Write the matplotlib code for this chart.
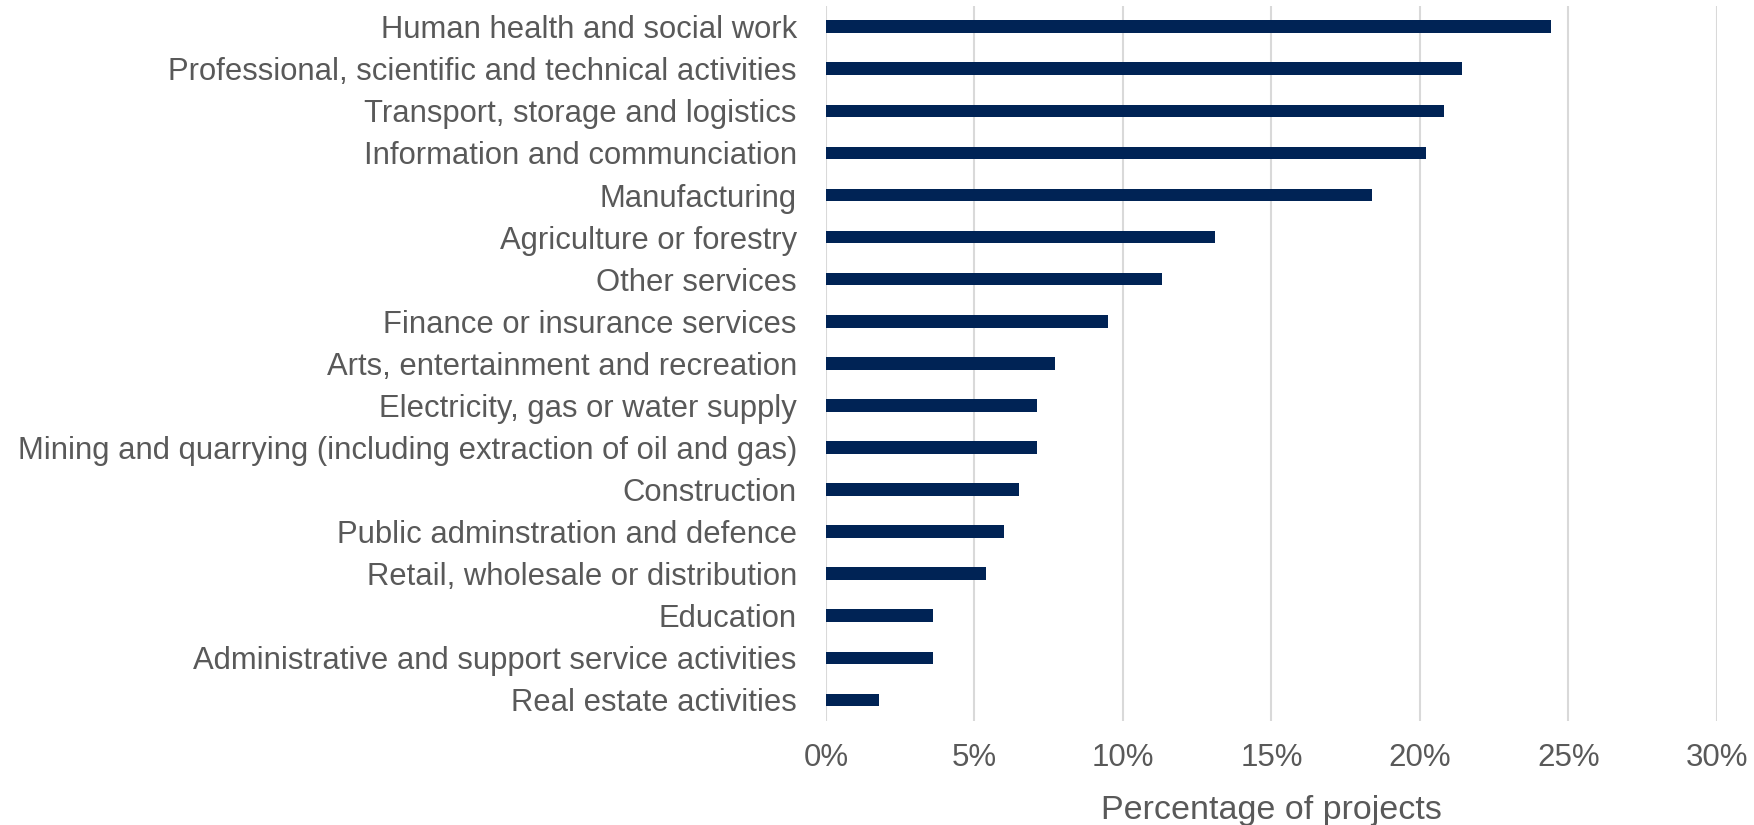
import matplotlib.pyplot as plt
from matplotlib.ticker import FuncFormatter

# Data (percent of projects)
sectors = [
    "Human health and social work",
    "Professional, scientific and technical activities",
    "Transport, storage and logistics",
    "Information and communciation",
    "Manufacturing",
    "Agriculture or forestry",
    "Other services",
    "Finance or insurance services",
    "Arts, entertainment and recreation",
    "Electricity, gas or water supply",
    "Mining and quarrying (including extraction of oil and gas)",
    "Construction",
    "Public adminstration and defence",
    "Retail, wholesale or distribution",
    "Education",
    "Administrative and support service activities",
    "Real estate activities",
]
percentages = [24.4, 21.4, 20.8, 20.2, 18.4, 13.1, 11.3, 9.5, 7.7,
               7.1, 7.1, 6.5, 6.0, 5.4, 3.6, 3.6, 1.8]
x_ticks = [0, 5, 10, 15, 20, 25, 30]

bar_color = "#002355"
text_color = "#595959"
grid_color = "#d9d9d9"

plt.rcParams['font.family'] = ['Liberation Sans', 'DejaVu Sans']

fig = plt.figure(figsize=(17.54, 8.25), dpi=100)
ax = fig.add_axes([0.4709, 0.1261, 0.5080, 0.8670])

y = list(range(len(sectors)))
ax.barh(y, percentages, height=0.30, color=bar_color, zorder=3)

ax.set_ylim(len(sectors) - 0.5, -0.5)
ax.set_xlim(0, 30)
ax.set_yticks(y)
ax.set_yticklabels(sectors)
ax.set_xticks(x_ticks)
ax.xaxis.set_major_formatter(FuncFormatter(lambda v, _: f"{v:.0f}%"))

ax.grid(axis="x", color=grid_color, linewidth=1.5, zorder=0)
for s in ax.spines.values():
    s.set_visible(False)

ax.tick_params(axis="y", length=0, pad=21, labelsize=22.3, labelcolor=text_color)
ax.tick_params(axis="x", length=0, pad=16, labelsize=22.5, labelcolor=text_color)
ax.set_xlabel("Percentage of projects", fontsize=24.5, color=text_color, labelpad=16)

fig.savefig("out.png", dpi=100)
